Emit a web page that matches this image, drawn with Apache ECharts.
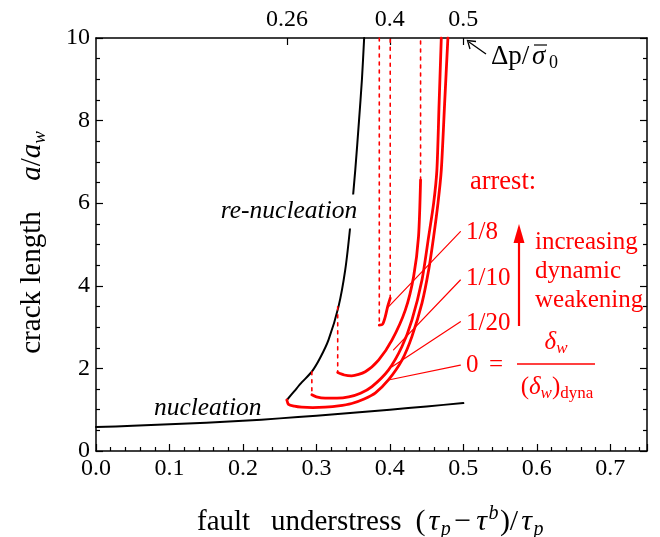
<!DOCTYPE html>
<html><head><meta charset="utf-8">
<script src="https://cdn.jsdelivr.net/npm/echarts@6/dist/echarts.min.js"></script>
<style>html,body{margin:0;padding:0;background:#fff}#c{width:660px;height:537px}</style>
</head><body><div id="c"></div>
<script>
// ---- data ----
const nucX = [0.0, 0.05, 0.10, 0.15, 0.20, 0.25, 0.30, 0.35, 0.40, 0.45, 0.50];
const nucY = [0.58, 0.61, 0.645, 0.685, 0.73, 0.79, 0.855, 0.925, 1.00, 1.08, 1.16];

const renucX = [0.2598, 0.270, 0.280, 0.2938, 0.305, 0.3165, 0.330, 0.3392, 0.346, 0.3529, 0.358, 0.362, 0.365];
const renucY = [1.235, 1.45, 1.66, 1.92, 2.25, 2.69, 3.49, 4.38, 5.43, 6.80, 8.0, 9.0, 10];

const arrest0X = [0.2598, 0.262, 0.270, 0.280, 0.295, 0.312, 0.330, 0.348, 0.365, 0.380, 0.398, 0.4165, 0.430, 0.4437, 0.4528, 0.4596, 0.4655, 0.470, 0.4745, 0.479];
const arrest0Y = [1.235, 1.13, 1.085, 1.06, 1.05, 1.06, 1.09, 1.15, 1.26, 1.40, 1.72, 2.2, 2.77, 3.58, 4.38, 5.19, 6.0, 6.8, 8.4, 10];

const arrest20X = [0.2938, 0.300, 0.312, 0.328, 0.344, 0.360, 0.3756, 0.398, 0.4165, 0.430, 0.4437, 0.4528, 0.4596, 0.464, 0.467, 0.470];
const arrest20Y = [1.36, 1.31, 1.28, 1.28, 1.31, 1.40, 1.56, 1.96, 2.53, 3.17, 4.14, 5.19, 6.0, 6.8, 8.4, 10];

const arrest10X = [0.329, 0.338, 0.348, 0.3665, 0.3846, 0.403, 0.421, 0.4323, 0.439, 0.4418];
const arrest10Y = [1.90, 1.84, 1.82, 1.92, 2.2, 2.69, 3.41, 4.22, 5.19, 6.56];

const arrest8X = [0.3856, 0.3901, 0.3937, 0.3969, 0.4005];
const arrest8Y = [3.05, 3.07, 3.25, 3.49, 3.70];

// vertical dotted jumps: [x, yFrom, yTo]
const jumps = [[0.2938, 1.92, 1.36], [0.329, 3.49, 1.90], [0.3856, 10, 3.05], [0.4005, 3.70, 10], [0.4418, 6.56, 10]];

// leader lines from labels to curves: [x1,y1,x2,y2]
const leaders = [[0.496, 5.31, 0.398, 3.49], [0.496, 4.14, 0.405, 2.45], [0.496, 3.13, 0.403, 2.04], [0.496, 2.08, 0.398, 1.72]];

const xTicks = [0, 0.1, 0.2, 0.3, 0.4, 0.5, 0.6, 0.7];
const topTicks = [0.26, 0.4, 0.5];
const topTickLabels = ['0.26', '0.4', '0.5'];
const arrestLabels = ['1/8', '1/10', '1/20'];

// ---- chart ----
const zip = (xs, ys) => xs.map((x, i) => [x, ys[i]]);
const FONT = 'Liberation Serif';
const RED = '#ff0000';
const chart = echarts.init(document.getElementById('c'), null, {renderer: 'canvas'});

const lineSeries = (data, color, width, type, z) => ({
  type: 'line', data, showSymbol: false, symbol: 'none', smooth: 0.25, animation: false,
  lineStyle: {color, width, type: type || 'solid', cap: 'round', join: 'round'}, z: z || 2, silent: true
});

const series = [
  lineSeries(zip(nucX, nucY), '#000', 2),
  lineSeries(zip(renucX, renucY), '#000', 2),
  lineSeries(zip(arrest0X, arrest0Y), RED, 2.8, 'solid', 3),
  lineSeries(zip(arrest20X, arrest20Y), RED, 2.8, 'solid', 3),
  lineSeries(zip(arrest10X, arrest10Y), RED, 2.8, 'solid', 3),
  lineSeries(zip(arrest8X, arrest8Y), RED, 2.8, 'solid', 3),
];
jumps.forEach(j => {
  const s = lineSeries([[j[0], j[1]], [j[0], j[2]]], RED, 1.6, [3, 5], 2);
  s.smooth = false; series.push(s);
});
leaders.forEach(l => {
  const s = lineSeries([[l[0], l[1]], [l[2], l[3]]], RED, 1.2, 'solid', 4);
  s.smooth = false; series.push(s);
});

const axisLineStyle = {color: '#000', width: 1.5};
const labelStyle = {fontFamily: FONT, fontSize: 24, color: '#000'};

const T = (x, y, text, extra, el) => Object.assign({
  type: 'text', x, y, z: 10,
  style: Object.assign({text, fontFamily: FONT, fontSize: 25, fill: '#000', align: 'center', verticalAlign: 'middle'}, extra || {})
}, el || {});

const mk = (fs, pad) => ({
  it: {fontFamily: FONT, fontSize: fs, fontStyle: 'italic', lineHeight: fs + 6, padding: [0, pad, 0, pad]},
  n: {fontFamily: FONT, fontSize: fs, lineHeight: fs + 6, padding: [0, pad, 0, pad]},
  np: {fontFamily: FONT, fontSize: fs, lineHeight: fs + 6, padding: [0, pad + 2]},
  sub: {fontFamily: FONT, fontSize: Math.round(fs * 0.66), fontStyle: 'italic', verticalAlign: 'bottom', lineHeight: Math.round(fs * 0.75)},
  subr: {fontFamily: FONT, fontSize: Math.round(fs * 0.66), verticalAlign: 'bottom', lineHeight: Math.round(fs * 0.75)},
  sup: {fontFamily: FONT, fontSize: Math.round(fs * 0.66), fontStyle: 'italic', verticalAlign: 'top', lineHeight: Math.round(fs * 0.75)}
});
const rich25 = mk(25, 0);
const rich29 = mk(29, 0);
const richX = mk(30, 1.5);

const graphics = [
  T(289, 211.5, 're-nucleation', {fontSize: 25.5, fontStyle: 'italic', backgroundColor: '#fff', padding: [4, 1]}),
  T(207.7, 408, 'nucleation', {fontSize: 25.5, fontStyle: 'italic'}),
  T(503, 182, 'arrest:', {fill: RED, fontSize: 26.5}),
  T(466, 232, arrestLabels[0], {fill: RED, align: 'left'}),
  T(466, 278, arrestLabels[1], {fill: RED, align: 'left'}),
  T(466, 323, arrestLabels[2], {fill: RED, align: 'left'}),
  T(466, 365, '0', {fill: RED, align: 'left'}),
  T(496, 365, '=', {fill: RED}),
  {type: 'line', z: 10, shape: {x1: 517, y1: 364, x2: 595, y2: 364}, style: {stroke: RED, lineWidth: 1.3}},
  T(556, 342, '{it|δ}{sub|w}', {fill: RED, rich: rich25}),
  T(557, 387, '{n|(}{it|δ}{sub|w}{n|)}{subr|dyna}', {fill: RED, rich: rich25}),
  T(535, 242, 'increasing', {fill: RED, align: 'left'}),
  T(535, 271, 'dynamic', {fill: RED, align: 'left'}),
  T(535, 300, 'weakening', {fill: RED, align: 'left'}),
  {type: 'line', z: 10, shape: {x1: 519, y1: 326, x2: 519, y2: 238}, style: {stroke: RED, lineWidth: 2.2}},
  {type: 'polygon', z: 10, shape: {points: [[519, 224], [513.5, 243], [524.5, 243]]}, style: {fill: RED}},
  // delta p / sigma0
  T(491, 57, 'Δp/', {align: 'left', fontSize: 27}),
  T(532, 57, 'σ', {align: 'left', fontSize: 27, fontStyle: 'italic'}),
  T(549, 63, '0', {align: 'left', fontSize: 18}),
  {type: 'line', z: 10, shape: {x1: 534, y1: 45, x2: 547, y2: 45}, style: {stroke: '#000', lineWidth: 1.2}},
  {type: 'line', z: 10, shape: {x1: 486, y1: 54, x2: 469, y2: 42}, style: {stroke: '#000', lineWidth: 1.3}},
  {type: 'polyline', z: 10, shape: {points: [[470, 49], [467.5, 40.5], [476, 41.5]]}, style: {stroke: '#000', lineWidth: 1.3, fill: null}},
  // axis titles
  T(197, 522, 'fault', {align: 'left', fontSize: 29}),
  T(271, 522, 'understress', {align: 'left', fontSize: 29}),
  T(414, 522, '{n|(}{it|τ}{sub|p}{np|−}{it|τ}{sup|b}{n|)/}{it|τ}{sub|p}', {align: 'left', rich: richX}),
  T(32, 282.5, 'crack length', {fontSize: 29}, {rotation: Math.PI / 2}),
  T(32, 156, '{it|a}{n|/}{it|a}{sub|w}', {rich: rich29}, {rotation: Math.PI / 2})
];

chart.setOption({
  backgroundColor: '#fff',
  animation: false,
  grid: {left: 96, right: 13, top: 38, bottom: 86, containLabel: false},
  xAxis: [
    {type: 'value', position: 'bottom', min: 0, max: 0.75, interval: 0.1,
     axisLine: {show: true, onZero: false, lineStyle: axisLineStyle},
     axisTick: {show: true, inside: true, length: 7, lineStyle: {color: '#000', width: 1.2}},
     minorTick: {show: true, splitNumber: 5, length: 4, lineStyle: {color: '#000', width: 1.2}},
     axisLabel: Object.assign({margin: 6, formatter: v => xTicks.some(t => Math.abs(t - v) < 1e-9) ? v.toFixed(1) : ''}, labelStyle),
     splitLine: {show: false}, minorSplitLine: {show: false}},
    {type: 'value', position: 'top', min: 0, max: 0.75,
     axisLine: {show: true, onZero: false, lineStyle: axisLineStyle},
     axisTick: {show: true, inside: true, length: 7, customValues: topTicks, lineStyle: {color: '#000', width: 1.2}},
     axisLabel: Object.assign({margin: 6, customValues: topTicks, formatter: v => topTickLabels[topTicks.findIndex(t => Math.abs(t - v) < 1e-9)] || ''}, labelStyle),
     splitLine: {show: false}}
  ],
  yAxis: [
    {type: 'value', position: 'left', min: 0, max: 10, interval: 2,
     axisLine: {show: true, onZero: false, lineStyle: axisLineStyle},
     axisTick: {show: true, inside: true, length: 7, lineStyle: {color: '#000', width: 1.2}},
     minorTick: {show: true, splitNumber: 4, length: 4, lineStyle: {color: '#000', width: 1.2}},
     axisLabel: Object.assign({margin: 6}, labelStyle),
     splitLine: {show: false}, minorSplitLine: {show: false}},
    {type: 'value', position: 'right', min: 0, max: 10, interval: 2,
     axisLine: {show: true, onZero: false, lineStyle: axisLineStyle},
     axisTick: {show: true, inside: true, length: 7, lineStyle: {color: '#000', width: 1.2}},
     minorTick: {show: true, splitNumber: 4, length: 4, lineStyle: {color: '#000', width: 1.2}},
     axisLabel: {show: false},
     splitLine: {show: false}}
  ],
  series,
  graphic: graphics
});
</script>
</body></html>
